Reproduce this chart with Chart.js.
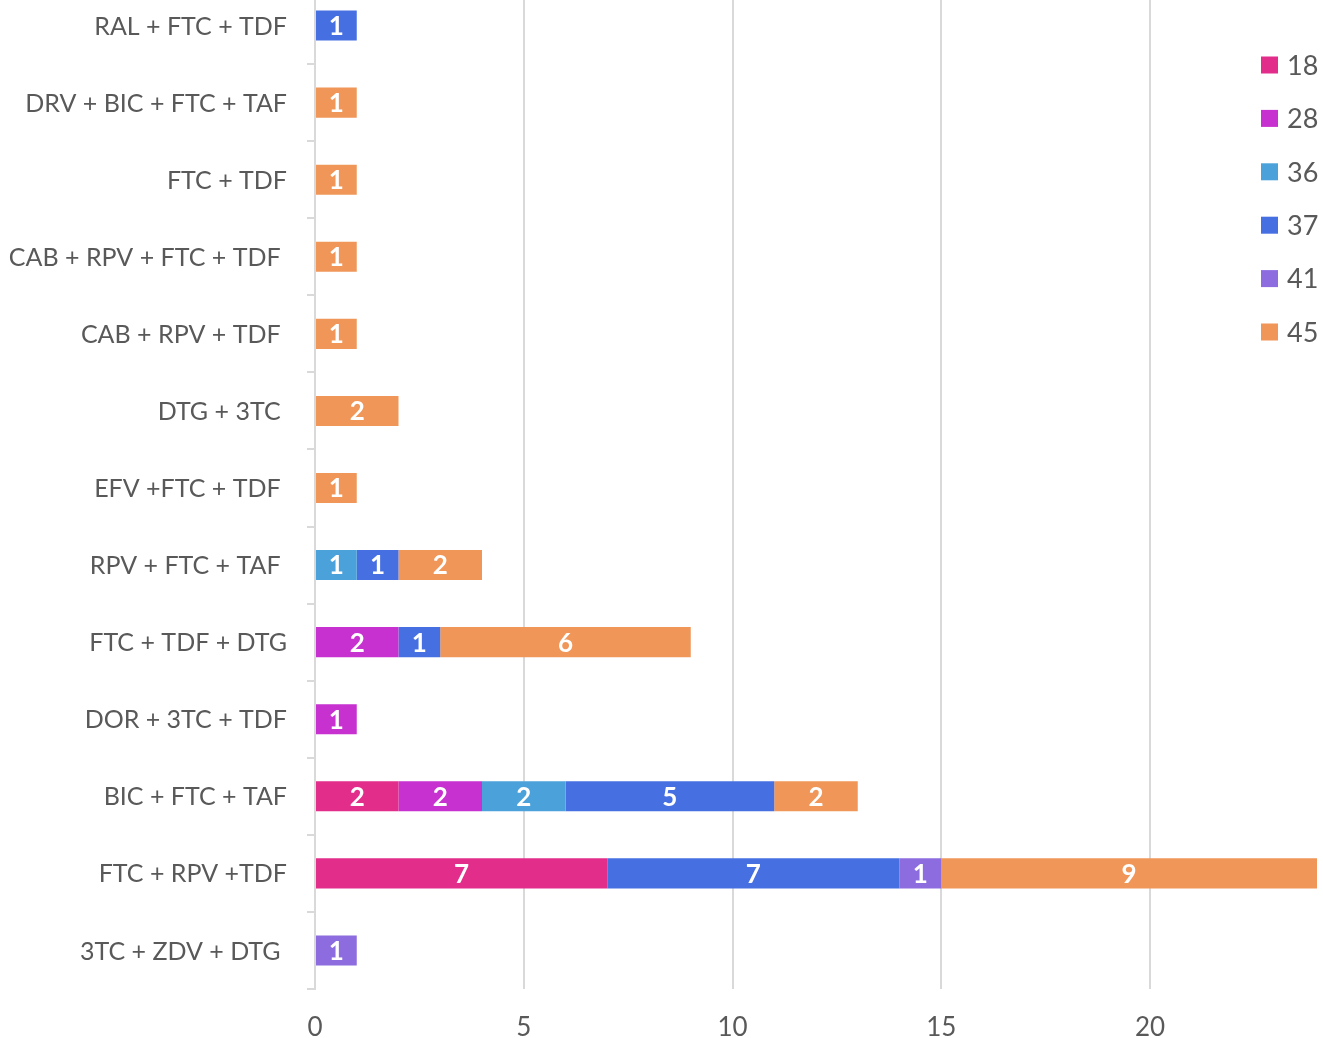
<!DOCTYPE html>
<html>
<head>
<meta charset="utf-8">
<script src="https://cdn.jsdelivr.net/npm/chart.js@4/dist/chart.umd.min.js"></script>
<style>
html,body{margin:0;padding:0;background:#fff;overflow:hidden;}
#wrap{position:absolute;left:0;top:-13px;width:1323px;height:1051px;}
</style>
</head>
<body>
<div id="wrap"><canvas id="c"></canvas></div>
<script>
const categories = [
  "RAL + FTC + TDF",
  "DRV + BIC + FTC + TAF",
  "FTC + TDF",
  "CAB + RPV + FTC + TDF ",
  "CAB + RPV + TDF ",
  "DTG + 3TC ",
  "EFV +FTC + TDF ",
  "RPV + FTC + TAF ",
  "FTC + TDF + DTG",
  "DOR + 3TC + TDF",
  "BIC + FTC + TAF",
  "FTC + RPV +TDF",
  "3TC + ZDV + DTG "
];
const seriesNames = ["18", "28", "36", "37", "41", "45"];
const s18 = [0,0,0,0,0,0,0,0,0,0,2,7,0];
const s28 = [0,0,0,0,0,0,0,0,2,1,2,0,0];
const s36 = [0,0,0,0,0,0,0,1,0,0,2,0,0];
const s37 = [1,0,0,0,0,0,0,1,1,0,5,7,0];
const s41 = [0,0,0,0,0,0,0,0,0,0,0,1,1];
const s45 = [0,1,1,1,1,2,1,2,6,0,2,9,0];
const xTicks = [0,5,10,15,20];
const xMax = 24;

const colors = ["#E22D8B","#C631CF","#4BA2DA","#4670E2","#8C6CDF","#EF9658"];
const seriesValues = [s18,s28,s36,s37,s41,s45];

const datasets = seriesNames.map((n,i)=>({
  label: n,
  data: seriesValues[i].map(v => v === 0 ? null : v),
  backgroundColor: colors[i],
  borderWidth: 0,
  categoryPercentage: 1,
  barPercentage: 0.39
}));

const FONT = "Lato, 'Open Sans', sans-serif";

const valueLabels = {
  id: 'valueLabels',
  afterDatasetsDraw(chart) {
    const ctx = chart.ctx;
    ctx.save();
    ctx.fillStyle = '#ffffff';
    ctx.font = "bold 26px " + FONT;
    ctx.textAlign = 'center';
    ctx.textBaseline = 'middle';
    chart.data.datasets.forEach((ds, di) => {
      const meta = chart.getDatasetMeta(di);
      meta.data.forEach((bar, i) => {
        const v = ds.data[i];
        if (v == null || v === 0) return;
        const cx = (bar.x + bar.base) / 2;
        ctx.fillText(String(v), cx, bar.y + 1);
      });
    });
    ctx.restore();
  }
};

const customLegend = {
  id: 'customLegend',
  afterDraw(chart) {
    const ctx = chart.ctx;
    ctx.save();
    ctx.font = "27px " + FONT;
    ctx.textAlign = 'left';
    ctx.textBaseline = 'middle';
    const x0 = 1261, y0 = 78, gap = 53.4, box = 17;
    chart.data.datasets.forEach((ds, i) => {
      const y = y0 + i * gap;
      ctx.fillStyle = ds.backgroundColor;
      ctx.fillRect(x0, y - box/2, box, box);
      ctx.fillStyle = '#595959';
      ctx.fillText(ds.label, x0 + 26, y + 1);
    });
    ctx.restore();
  }
};

new Chart(document.getElementById('c'), {
  type: 'bar',
  data: { labels: categories, datasets },
  options: {
    indexAxis: 'y',
    responsive: true,
    maintainAspectRatio: false,
    animation: false,
    layout: { padding: { left: 0, right: 6, top: 0, bottom: 0 } },
    plugins: { legend: { display: false }, tooltip: { enabled: false } },
    scales: {
      x: {
        stacked: true,
        min: 0,
        max: xMax,
        afterBuildTicks(scale) { scale.ticks = xTicks.map(v => ({ value: v })); },
        afterFit(scale) { scale.height = 49; scale.paddingLeft = 0; scale.paddingRight = 0; },
        ticks: { font: { family: FONT, size: 26 }, color: '#595959', padding: 23, includeBounds: false },
        grid: { color: '#d9d9d9', lineWidth: 2, drawTicks: false },
        border: { display: false }
      },
      y: {
        stacked: true,
        afterFit(scale) { scale.width = 315; scale.paddingTop = 0; scale.paddingBottom = 0; },
        ticks: { font: { family: FONT, size: 25 }, color: '#595959', padding: 20, autoSkip: false, labelOffset: 1 },
        grid: { drawOnChartArea: false, drawTicks: true, tickLength: 8, color: '#d9d9d9', lineWidth: 2, offset: true },
        border: { display: true, color: '#d9d9d9', width: 2 }
      }
    }
  },
  plugins: [valueLabels, customLegend]
});
</script>
</body>
</html>
